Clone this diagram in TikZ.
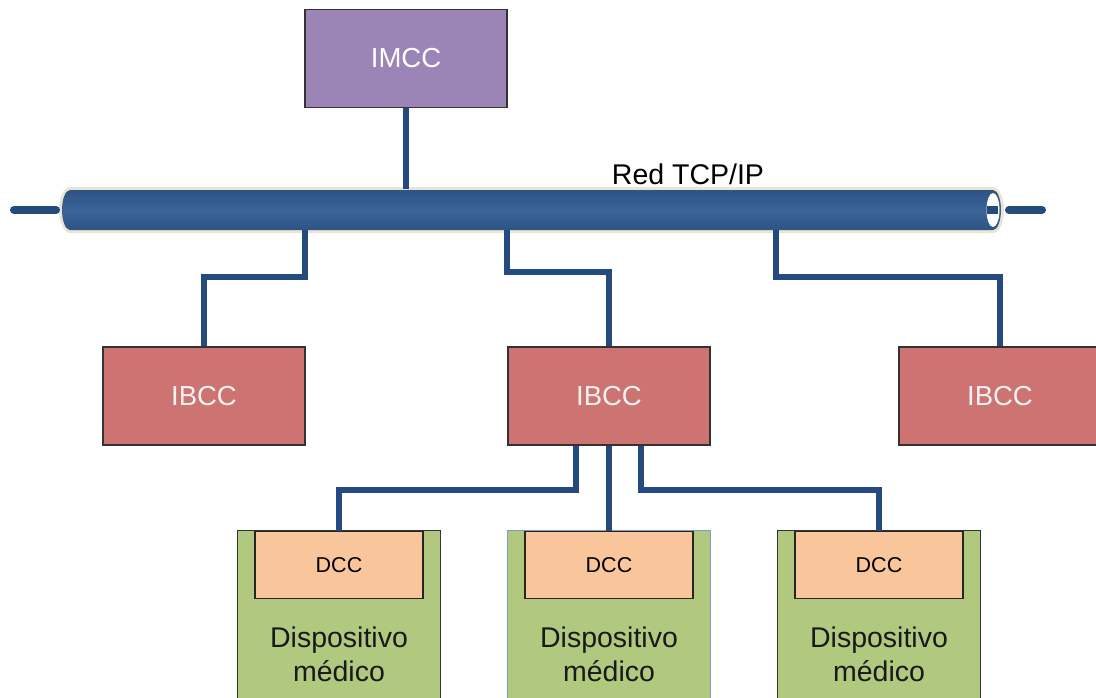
\documentclass[tikz,border=0pt]{standalone}
\usepackage{fontspec}
\setmainfont{Liberation Sans}
\begin{document}
\begin{tikzpicture}[x=1pt,y=-1pt,
  box/.style={draw=black!80,line width=1.2pt,minimum width=202pt,minimum height=98pt,inner sep=0pt},
  imccbox/.style={box,fill=imcc,text=white,font=\fontsize{27.5}{30}\selectfont},
  ibccbox/.style={box,fill=ibcc,text=white!95!black,font=\fontsize{27.5}{30}\selectfont},
  devbox/.style={draw=black!80,line width=1.2pt,fill=dev,minimum width=203pt,minimum height=180pt,inner sep=0pt},
  dccbox/.style={draw=black!85,line width=1.2pt,fill=dcc,minimum width=168pt,minimum height=67pt,inner sep=0pt,font=\fontsize{21.5}{24}\selectfont},
  devtext/.style={font=\fontsize{28.5}{34}\selectfont,align=center,text=black!90},
  link/.style={draw=wire,line width=6pt},
  stub/.style={draw=stubc,line width=8pt,line cap=round}]
\definecolor{imcc}{HTML}{9B85B7}
\definecolor{ibcc}{HTML}{CD7371}
\definecolor{dev}{HTML}{B1C97F}
\definecolor{dcc}{HTML}{F9C69B}
\definecolor{wire}{HTML}{254A7F}
\definecolor{stubc}{HTML}{244A7E}
\definecolor{busfill}{HTML}{3B6397}
\definecolor{busdark}{HTML}{2E5486}
\definecolor{halo}{HTML}{E9E5D2}
\definecolor{midedge}{HTML}{7F9CC0}

\useasboundingbox (0,0) rectangle (1096,697);

% nodes
\node[imccbox] (imcc) at (406,58.5) {IMCC};
\node[ibccbox] (ibccL) at (204,396) {IBCC};
\node[ibccbox] (ibccM) at (609,396) {IBCC};
\node[ibccbox] (ibccR) at (1000,396) {IBCC};

% network bus (tube); y axis points down, so angles run the other way
\coordinate (busL) at (70,210);
\coordinate (busR) at (993,210);
\fill[halo] (993,187) -- (70,187) arc[start angle=270,end angle=90,x radius=11,y radius=23] -- (993,233) arc[start angle=90,end angle=-90,x radius=11,y radius=23] -- cycle;
\shade[top color=busdark,bottom color=busdark,middle color=busfill]
  (993,190) -- (70,190) arc[start angle=270,end angle=90,x radius=8,y radius=20] -- (993,230) arc[start angle=90,end angle=-90,x radius=8,y radius=20] -- cycle;
\fill[white] (busR) ellipse[x radius=6.5,y radius=17];
\fill[stubc] (986.5,206) rectangle (997.5,214);
\draw[stub] (14,210) -- (56,210);
\draw[stub] (1009,210) -- (1042,210);
\node[font=\fontsize{28.5}{32}\selectfont] (bus) at (688,174) {Red TCP/IP};

% taps on the bus
\coordinate (tapM) at (406,189);
\coordinate (tap1) at (305,230);
\coordinate (tap2) at (507,230);
\coordinate (tap3) at (776,230);

% devices
\node[devbox,anchor=north] (devL) at (339,530) {};
\node[devbox,anchor=north,draw=midedge] (devM) at (609,530) {};
\node[devbox,anchor=north] (devR) at (879,530) {};
\foreach \d/\x in {L/339,M/609,R/879}{
  \node[dccbox,anchor=north] (dcc\d) at (\x,531) {DCC};
  \node[devtext] (txt\d) at (\x,654) {Dispositivo\\médico};
}

% links
\draw[link] (imcc.south) -- (tapM);
\draw[link] (tap1) |- (204,277) -- (ibccL.north);
\draw[link] (tap2) |- (609,272) -- (ibccM.north);
\draw[link] (tap3) |- (1000,277) -- (ibccR.north);
\draw[link] ([xshift=-33pt]ibccM.south) |- (339,490) -- (dccL.north);
\draw[link] (ibccM.south) -- (dccM.north);
\draw[link] ([xshift=32pt]ibccM.south) |- (879,490) -- (dccR.north);
\end{tikzpicture}
\end{document}
